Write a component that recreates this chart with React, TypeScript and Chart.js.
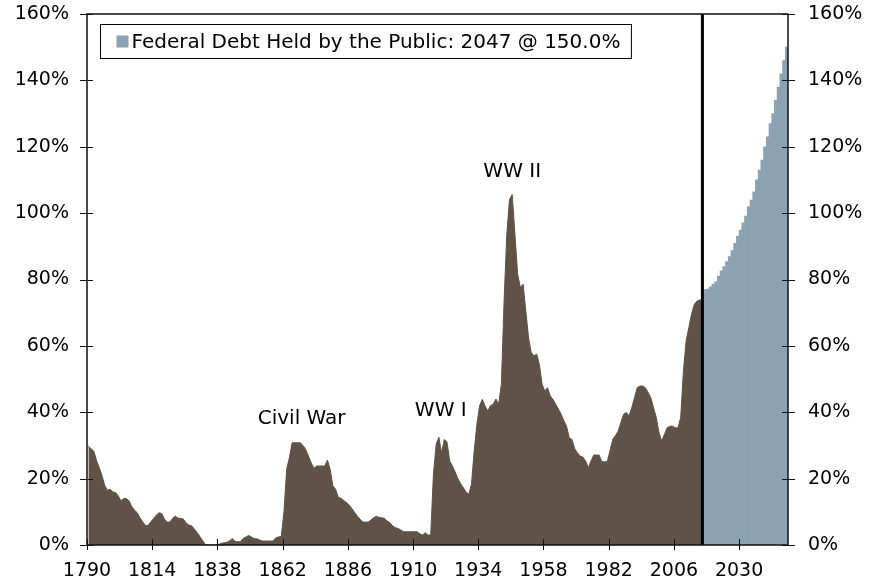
import React, { useEffect, useRef } from 'react';
import { Chart, registerables } from 'chart.js';

Chart.register(...registerables);

// Federal debt held by the public, percent of GDP
const firstYear = 1790;
const historicalDebt = [
  29.8, 29.0, 28.3, 25.5, 23.3, 21.0, 18.0, 16.5, 16.8, 16.0, // 1790s
  15.8, 14.8, 13.3, 14.0, 14.0, 13.3, 11.5, 10.5, 9.7, 8.2, // 1800s
  7.0, 5.9, 5.9, 7.0, 8.0, 9.0, 9.7, 9.5, 7.8, 6.9, // 1810s
  6.9, 8.0, 8.7, 8.1, 8.0, 7.8, 6.6, 6.0, 5.8, 4.8, // 1820s
  3.8, 2.6, 1.4, 0.2, 0, 0, 0, 0, 0.2, 0.5, // 1830s
  0.7, 0.8, 1.3, 1.9, 1.1, 1.0, 1.0, 2.0, 2.4, 2.9, // 1840s
  2.4, 1.9, 1.9, 1.5, 1.2, 1.2, 1.2, 1.2, 1.2, 2.2, // 1850s
  2.4, 2.6, 10.0, 23.0, 26.3, 30.8, 30.8, 30.8, 30.8, 30.0, // 1860s
  28.8, 26.8, 24.8, 23.1, 23.8, 23.8, 23.8, 23.8, 25.6, 22.8, // 1870s
  17.8, 16.8, 14.3, 14.1, 13.4, 12.8, 12.0, 11.0, 9.8, 8.7, // 1880s
  7.8, 6.9, 6.9, 6.9, 7.5, 8.2, 8.7, 8.3, 8.2, 8.0, // 1890s
  7.2, 6.7, 5.8, 5.2, 5.0, 4.5, 4.0, 4.0, 4.0, 4.0, // 1900s
  4.0, 4.0, 3.4, 3.0, 3.7, 3.0, 3.0, 21.3, 30.3, 32.5, // 1910s
  27.8, 31.8, 31.0, 25.3, 23.8, 22.0, 20.0, 18.5, 17.3, 16.0, // 1920s
  15.3, 18.3, 28.3, 36.4, 42.0, 43.9, 41.9, 40.4, 42.0, 42.4, // 1930s
  44.0, 42.4, 48.4, 73.5, 93.6, 104.1, 105.6, 93.6, 81.6, 77.6, // 1940s
  78.6, 70.6, 62.5, 58.0, 57.0, 57.5, 54.4, 48.4, 46.4, 47.4, // 1950s
  44.9, 43.9, 42.4, 41.0, 39.4, 37.5, 35.8, 32.3, 31.8, 29.0, // 1960s
  27.8, 26.8, 26.5, 25.3, 23.3, 25.3, 27.1, 27.1, 27.1, 25.1, // 1970s
  25.1, 25.1, 28.5, 31.8, 33.0, 34.3, 37.0, 39.4, 39.9, 38.9, // 1980s
  41.4, 44.4, 47.4, 47.9, 47.9, 47.4, 46.0, 44.4, 41.4, 38.5, // 1990s
  34.0, 31.3, 33.3, 35.3, 35.8, 35.8, 35.3, 35.3, 38.4, 52.4, // 2000s
  61.5, 65.5, 69.5, 72.5, 73.5, 73.8, 74.0, // 2010-2016
];

const projectionFirstYear = 2017;
const projectedDebt = [
  77.0, 77.1, 77.8, 78.6, 79.3, 81.0, 82.6, 83.9, 85.4, 86.9, // 2017-2026
  88.7, 90.9, 93.1, 94.9, 97.1, 99.1, 101.9, 103.9, 106.4, 110.0, // 2027-2036
  113.0, 116.0, 120.0, 123.0, 127.0, 130.0, 134.0, 138.0, 142.0, 146.0, // 2037-2046
  150.0, // 2047
];

const xTickYears = [1790, 1814, 1838, 1862, 1886, 1910, 1934, 1958, 1982, 2006, 2030];
const yTickValues = [0, 20, 40, 60, 80, 100, 120, 140, 160];

const eventLabels = ['Civil War', 'WW I', 'WW II'];
const eventYears = [1869, 1920.2, 1946.5];
const eventLevels = [38, 40.4, 112.4];

const seriesName = 'Federal Debt Held by the Public';

const HIST_COLOR = '#5f5347';
const PROJ_COLOR = '#8aa2b2';
const FONT = '"DejaVu Sans", Verdana, sans-serif';

const lastHistoricalYear = firstYear + historicalDebt.length - 1;
const lastProjectedYear = projectionFirstYear + projectedDebt.length - 1;

const decorations = {
  id: 'decorations',
  afterDatasetsDraw(chart: any) {
    const { ctx, chartArea: a, scales } = chart;
    const xs = scales.x;
    const ys = scales.y;
    ctx.save();

    // divider between actual and projected values
    const dx = xs.getPixelForValue(lastHistoricalYear + 0.5);
    ctx.strokeStyle = '#000';
    ctx.lineWidth = 3;
    ctx.beginPath();
    ctx.moveTo(dx, a.top);
    ctx.lineTo(dx, a.bottom);
    ctx.stroke();

    // plot frame
    ctx.lineWidth = 1.5;
    ctx.strokeStyle = '#111';
    ctx.strokeRect(a.left, a.top, a.right - a.left, a.bottom - a.top);

    // tick marks crossing the axes
    ctx.lineWidth = 1;
    ctx.beginPath();
    xs.ticks.forEach((t: any) => {
      const px = Math.round(xs.getPixelForValue(t.value)) + 0.5;
      ctx.moveTo(px, a.bottom - 6);
      ctx.lineTo(px, a.bottom + 5);
    });
    ys.ticks.forEach((t: any) => {
      const py = Math.round(ys.getPixelForValue(t.value)) + 0.5;
      ctx.moveTo(a.left - 7, py);
      ctx.lineTo(a.left + 6, py);
      ctx.moveTo(a.right - 6, py);
      ctx.lineTo(a.right + 7, py);
    });
    ctx.stroke();

    // event labels
    ctx.fillStyle = '#000';
    ctx.font = `20px ${FONT}`;
    ctx.textAlign = 'center';
    ctx.textBaseline = 'middle';
    eventLabels.forEach((txt, i) => {
      ctx.fillText(txt, xs.getPixelForValue(eventYears[i]), ys.getPixelForValue(eventLevels[i]));
    });

    // legend box
    const finalValue = projectedDebt[projectedDebt.length - 1];
    const legendText = `${seriesName}: ${lastProjectedYear} @ ${finalValue.toFixed(1)}%`;
    ctx.font = `20px ${FONT}`;
    ctx.textAlign = 'left';
    const tw = ctx.measureText(legendText).width;
    const bx = a.left + 13.5;
    const by = a.top + 10.5;
    const bh = 34;
    const bw = tw + 42;
    ctx.fillStyle = '#fff';
    ctx.fillRect(bx, by, bw, bh);
    ctx.strokeStyle = '#000';
    ctx.lineWidth = 1;
    ctx.strokeRect(bx, by, bw, bh);
    ctx.fillStyle = PROJ_COLOR;
    ctx.fillRect(bx + 16, by + bh / 2 - 6, 12, 12);
    ctx.fillStyle = '#000';
    ctx.fillText(legendText, bx + 31, by + bh / 2 + 1);

    ctx.restore();
  },
};

export default function App() {
  const canvasRef = useRef<HTMLCanvasElement | null>(null);

  useEffect(() => {
    const canvas = canvasRef.current;
    if (!canvas) return;

    Chart.defaults.font.family = FONT;
    Chart.defaults.font.size = 19;
    Chart.defaults.color = '#000';

    const historicalPoints = historicalDebt.map((v, i) => ({ x: firstYear + i + 0.5, y: v }));
    const projectedPoints = projectedDebt.map((v, i) => ({ x: projectionFirstYear + i + 0.5, y: v }));

    const noOverhang = (s: any) => {
      s.paddingTop = 0;
      s.paddingBottom = 0;
      s.paddingLeft = 0;
      s.paddingRight = 0;
    };

    const chart = new Chart(canvas, {
      type: 'line',
      data: {
        datasets: [
          {
            type: 'line',
            label: 'Actual',
            data: historicalPoints,
            backgroundColor: HIST_COLOR,
            borderColor: HIST_COLOR,
            borderWidth: 1,
            pointRadius: 0,
            fill: 'origin',
            tension: 0,
            yAxisID: 'y',
          },
          {
            type: 'bar',
            label: seriesName,
            data: projectedPoints,
            backgroundColor: PROJ_COLOR,
            borderWidth: 0,
            barPercentage: 1,
            categoryPercentage: 1,
            yAxisID: 'y',
          } as any,
        ],
      },
      options: {
        responsive: false,
        animation: false,
        events: [],
        layout: { padding: { top: 14, left: 0, right: 0, bottom: 0 } },
        plugins: {
          legend: { display: false },
          tooltip: { enabled: false },
          title: { display: false },
        },
        scales: {
          x: {
            type: 'linear',
            offset: false,
            min: firstYear,
            max: lastProjectedYear + 1,
            grid: { display: false, drawTicks: false, offset: false },
            border: { display: false },
            afterBuildTicks: (axis: any) => {
              axis.ticks = xTickYears.map((v) => ({ value: v }));
            },
            afterFit: (s: any) => {
              s.height = 37;
              noOverhang(s);
            },
            ticks: {
              autoSkip: false,
              maxRotation: 0,
              padding: 15,
              callback: (v: any) => String(v),
            },
          },
          y: {
            type: 'linear',
            position: 'left',
            min: 0,
            max: 160,
            grid: { display: false, drawTicks: false },
            border: { display: false },
            afterBuildTicks: (axis: any) => {
              axis.ticks = yTickValues.map((v) => ({ value: v }));
            },
            afterFit: (s: any) => {
              s.width = 87;
              noOverhang(s);
            },
            ticks: { padding: 18, callback: (v: any) => `${v}%` },
          },
          y2: {
            type: 'linear',
            position: 'right',
            min: 0,
            max: 160,
            grid: { display: false, drawTicks: false },
            border: { display: false },
            afterBuildTicks: (axis: any) => {
              axis.ticks = yTickValues.map((v) => ({ value: v }));
            },
            afterFit: (s: any) => {
              s.width = 92;
              noOverhang(s);
            },
            ticks: { padding: 20, callback: (v: any) => `${v}%` },
          },
        },
      },
      plugins: [decorations],
    });

    return () => chart.destroy();
  }, []);

  return (
    <div style={{ position: 'fixed', left: 0, top: 0, width: 880, height: 582, background: '#fff' }}>
      <canvas ref={canvasRef} width={880} height={582} />
    </div>
  );
}
